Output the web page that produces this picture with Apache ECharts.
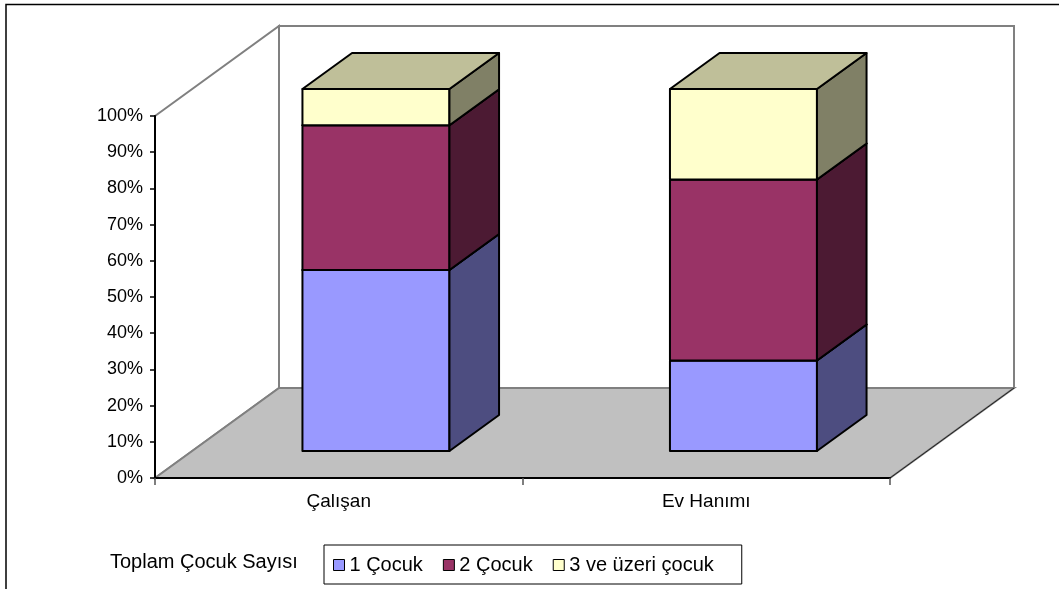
<!DOCTYPE html>
<html>
<head>
<meta charset="utf-8">
<script src="https://cdn.jsdelivr.net/npm/echarts@6/dist/echarts.min.js"></script>
<style>
html,body{margin:0;padding:0;background:#fff;}
#chart{width:1059px;height:589px;}
</style>
</head>
<body>
<div id="chart"></div>
<script>
// ---- data ----
const categories = ['Çalışan', 'Ev Hanımı'];
const seriesNames = ['1 Çocuk', '2 Çocuk', '3 ve üzeri çocuk'];
const oneChild = [50, 25];
const twoChildren = [40, 50];
const threePlus = [10, 25];
const yTickLabels = ['0%','10%','20%','30%','40%','50%','60%','70%','80%','90%','100%'];
const legendTitle = 'Toplam Çocuk Sayısı';

// ---- styles ----
const frontColors = ['#9999FF', '#993366', '#FFFFCC'];
const sideColors = ['#4D4D80', '#4C1A33', '#808066'];
const topColors = ['#7373BF', '#732650', '#BFBF99'];
const DEPTH_X = 124, DEPTH_Y = -90;   // 3D depth offset of the chart box
const FRONT = 0.3, BAR_DEPTH = 0.4, BAR_RATIO = 0.4;
const FONT = 'Liberation Sans, Arial, sans-serif';

const seriesValues = [oneChild, twoChildren, threePlus];

function renderWalls(params, api) {
  const cs = params.coordSys;
  const L = cs.x, R = cs.x + cs.width, T = cs.y, B = cs.y + cs.height;
  const gray = '#808080';
  return {
    type: 'group',
    children: [
      { type: 'polygon', shape: { points: [[L, T], [L + DEPTH_X, T + DEPTH_Y], [L + DEPTH_X, B + DEPTH_Y], [L, B]] },
        style: { fill: '#fff', stroke: gray, lineWidth: 2 } },
      { type: 'rect', shape: { x: L + DEPTH_X, y: T + DEPTH_Y, width: cs.width, height: cs.height },
        style: { fill: '#fff', stroke: gray, lineWidth: 2 } },
      { type: 'polygon', shape: { points: [[L, B], [L + DEPTH_X, B + DEPTH_Y], [R + DEPTH_X, B + DEPTH_Y], [R, B]] },
        style: { fill: '#C0C0C0', stroke: gray, lineWidth: 2 } },
      { type: 'line', shape: { x1: R, y1: B, x2: R + DEPTH_X, y2: B + DEPTH_Y },
        style: { stroke: '#222', lineWidth: 1 } }
    ]
  };
}

function makeBarRenderer(k) {
  return function (params, api) {
    const c = api.value(0), b = api.value(1), t = api.value(2);
    const pb = api.coord([c, b]);
    const pt = api.coord([c, t]);
    const bw = api.size([1, 0])[0] * BAR_RATIO;
    const ox = DEPTH_X * FRONT, oy = DEPTH_Y * FRONT;
    const dx = DEPTH_X * BAR_DEPTH, dy = DEPTH_Y * BAR_DEPTH;
    const x0 = pb[0] - bw / 2 + ox, x1 = x0 + bw;
    const yb = pb[1] + oy, yt = pt[1] + oy;
    const st = { stroke: '#000', lineWidth: 2, lineJoin: 'round' };
    return {
      type: 'group',
      children: [
        { type: 'polygon', shape: { points: [[x0, yb], [x1, yb], [x1, yt], [x0, yt]] },
          style: Object.assign({ fill: frontColors[k] }, st) },
        { type: 'polygon', shape: { points: [[x1, yb], [x1 + dx, yb + dy], [x1 + dx, yt + dy], [x1, yt]] },
          style: Object.assign({ fill: sideColors[k] }, st) },
        { type: 'polygon', shape: { points: [[x0, yt], [x1, yt], [x1 + dx, yt + dy], [x0 + dx, yt + dy]] },
          style: Object.assign({ fill: topColors[k] }, st) }
      ]
    };
  };
}

const series = [{
  type: 'custom',
  name: 'walls',
  z: 1,
  silent: true,
  renderItem: renderWalls,
  data: [[0, 0]],
  encode: { x: 0, y: 1 }
}];

const bases = categories.map(() => 0);
seriesValues.forEach((vals, k) => {
  const data = categories.map((_, i) => {
    const item = [i, bases[i], bases[i] + vals[i]];
    bases[i] += vals[i];
    return item;
  });
  series.push({
    type: 'custom',
    name: seriesNames[k],
    z: 3,
    itemStyle: { color: frontColors[k] },
    renderItem: makeBarRenderer(k),
    data: data,
    encode: { x: 0, y: [1, 2] }
  });
});

const chart = echarts.init(document.getElementById('chart'), null, { renderer: 'canvas' });
chart.setOption({
  animation: false,
  backgroundColor: '#fff',
  textStyle: { fontFamily: FONT },
  grid: { left: 155, right: 169, top: 116, bottom: 111, containLabel: false },
  title: {
    text: legendTitle,
    left: 110,
    top: 552,
    padding: 0,
    textStyle: { fontFamily: FONT, fontSize: 20, fontWeight: 'normal', color: '#000' }
  },
  legend: {
    left: 324,
    top: 545,
    orient: 'horizontal',
    padding: [10, 28, 9, 9],
    itemGap: 20,
    itemWidth: 11,
    itemHeight: 11,
    borderColor: '#000',
    borderWidth: 1,
    selectedMode: false,
    textStyle: { fontFamily: FONT, fontSize: 20, color: '#000' },
    data: seriesNames.map((n, k) => ({
      name: n,
      icon: 'rect',
      itemStyle: { color: frontColors[k], borderColor: '#000', borderWidth: 1 }
    }))
  },
  xAxis: {
    type: 'category',
    data: categories,
    z: 5,
    boundaryGap: true,
    axisLine: { lineStyle: { color: '#000', width: 2 } },
    axisTick: { show: true, length: 7, lineStyle: { color: '#555', width: 1.5 } },
    axisLabel: { fontFamily: FONT, fontSize: 19, color: '#000', margin: 14 },
    splitLine: { show: false }
  },
  yAxis: {
    type: 'value',
    min: 0,
    max: 100,
    interval: 10,
    z: 5,
    axisLine: { show: true, lineStyle: { color: '#000', width: 2 } },
    axisTick: { show: true, length: 5, lineStyle: { color: '#000', width: 1.5 } },
    axisLabel: {
      fontFamily: FONT, fontSize: 18, color: '#000', margin: 12,
      formatter: function (v) { return yTickLabels[Math.round(v / 10)]; }
    },
    splitLine: { show: false }
  },
  graphic: [{
    type: 'rect',
    silent: true,
    z: 100,
    shape: { x: 6, y: 4.5, width: 1200, height: 800 },
    style: { fill: 'none', stroke: '#000', lineWidth: 1.5 }
  }],
  series: series
});
</script>
</body>
</html>
